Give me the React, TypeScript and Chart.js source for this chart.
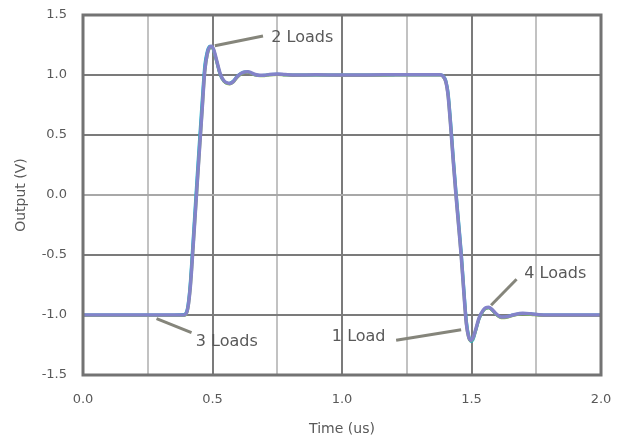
import { useEffect, useRef } from 'react';
import { Chart, registerables } from 'chart.js';

Chart.register(...registerables);

const timeUs = [0, 0.1, 0.2, 0.3, 0.39, 0.40, 0.405, 0.41, 0.415, 0.42, 0.43, 0.44, 0.45, 0.46, 0.47, 0.48, 0.49, 0.497, 0.505, 0.515, 0.53, 0.545, 0.56, 0.567, 0.58, 0.595, 0.61, 0.625, 0.637, 0.65, 0.665, 0.683, 0.70, 0.72, 0.75, 0.78, 0.82, 0.9, 1.0, 1.1, 1.2, 1.3, 1.38, 1.39, 1.40, 1.405, 1.41, 1.42, 1.43, 1.44, 1.45, 1.46, 1.47, 1.48, 1.49, 1.498, 1.506, 1.515, 1.53, 1.545, 1.555, 1.566, 1.58, 1.595, 1.614, 1.635, 1.66, 1.698, 1.73, 1.76, 1.8, 1.9, 2.0];

const load1 = [-1.0, -1.0, -1.0, -1.0, -0.995, -0.97, -0.92, -0.83, -0.7, -0.54, -0.2, 0.14, 0.47, 0.79, 1.08, 1.2, 1.24, 1.235, 1.2, 1.12, 1.0, 0.945, 0.93, 0.932, 0.95, 0.99, 1.015, 1.025, 1.025, 1.015, 1.002, 0.996, 0.998, 1.004, 1.007, 1.003, 0.999, 1.001, 1.0, 0.999, 1.001, 1.002, 1.002, 0.993, 0.96, 0.915, 0.85, 0.6, 0.31, 0.04, -0.21, -0.46, -0.76, -1.04, -1.18, -1.22, -1.205, -1.14, -1.03, -0.965, -0.945, -0.94, -0.96, -0.995, -1.02, -1.015, -1.0, -0.987, -0.992, -0.998, -1.0, -1.0, -1.0];

const load2 = [-1.0, -1.0, -1.0, -1.0, -1.0, -0.98, -0.94, -0.86, -0.75, -0.6, -0.27, 0.065, 0.39, 0.71, 1.03, 1.18, 1.235, 1.24, 1.21, 1.13, 1.01, 0.95, 0.932, 0.93, 0.945, 0.985, 1.012, 1.025, 1.027, 1.018, 1.004, 0.997, 0.998, 1.004, 1.008, 1.004, 1.0, 1.002, 1.0, 1.0, 1.002, 1.003, 1.003, 0.99, 0.95, 0.9, 0.82, 0.56, 0.27, 0.0, -0.25, -0.5, -0.8, -1.07, -1.19, -1.21, -1.19, -1.13, -1.02, -0.96, -0.94, -0.935, -0.955, -0.99, -1.017, -1.015, -1.0, -0.985, -0.99, -0.997, -1.0, -1.0, -1.0];

const load3 = [-1.005, -1.005, -1.005, -1.005, -1.005, -0.985, -0.945, -0.865, -0.755, -0.61, -0.28, 0.05, 0.38, 0.7, 1.02, 1.17, 1.228, 1.235, 1.205, 1.125, 1.005, 0.945, 0.927, 0.926, 0.94, 0.98, 1.007, 1.02, 1.022, 1.013, 0.999, 0.993, 0.994, 1.0, 1.004, 1.0, 0.997, 0.999, 0.997, 0.997, 0.999, 1.0, 1.0, 0.987, 0.946, 0.897, 0.815, 0.555, 0.265, -0.005, -0.255, -0.505, -0.805, -1.075, -1.195, -1.215, -1.195, -1.135, -1.025, -0.965, -0.945, -0.94, -0.96, -0.995, -1.022, -1.02, -1.005, -0.99, -0.995, -1.002, -1.005, -1.005, -1.005];

const load4 = [-1.0, -1.0, -1.0, -1.0, -1.0, -0.982, -0.942, -0.862, -0.752, -0.605, -0.275, 0.06, 0.385, 0.705, 1.025, 1.178, 1.232, 1.238, 1.208, 1.128, 1.008, 0.948, 0.93, 0.928, 0.943, 0.983, 1.01, 1.023, 1.025, 1.016, 1.002, 0.995, 0.996, 1.002, 1.006, 1.002, 0.998, 1.0, 0.998, 0.998, 1.0, 1.001, 1.001, 0.988, 0.948, 0.898, 0.818, 0.558, 0.268, -0.002, -0.252, -0.502, -0.802, -1.072, -1.192, -1.212, -1.192, -1.132, -1.022, -0.962, -0.942, -0.937, -0.957, -0.992, -1.019, -1.017, -1.002, -0.987, -0.992, -0.999, -1.002, -1.002, -1.002];

const seriesNames = ['1 Load', '2 Loads', '3 Loads', '4 Loads'];

const annotationTexts = ['2 Loads', '3 Loads', '4 Loads', '1 Load'];
const annotationLines = [
  [0.509, 1.244, 0.695, 1.325],
  [0.284, -1.031, 0.419, -1.1475],
  [1.5756, -0.919, 1.674, -0.7025],
  [1.209, -1.211, 1.46, -1.1225],
];
const annotationAnchors = [
  [0.727, 1.308, 'left'],
  [0.4356, -1.225, 'left'],
  [1.704, -0.661, 'left'],
  [1.168, -1.183, 'right'],
];

const FONT = 'DejaVu Sans';
const TEXT = '#595959';

const toPoints = (vals: number[]) => vals.map((v, i) => ({ x: timeUs[i], y: v }));

const framePlugin = {
  id: 'frameAndNotes',
  afterDatasetsDraw(chart: any) {
    const { ctx, chartArea, scales } = chart;
    const xs = scales.x;
    const ys = scales.y;
    ctx.save();
    ctx.strokeStyle = '#85857b';
    ctx.lineWidth = 3;
    annotationLines.forEach((l) => {
      ctx.beginPath();
      ctx.moveTo(xs.getPixelForValue(l[0]), ys.getPixelForValue(l[1]));
      ctx.lineTo(xs.getPixelForValue(l[2]), ys.getPixelForValue(l[3]));
      ctx.stroke();
    });
    ctx.fillStyle = TEXT;
    ctx.font = `16px "${FONT}"`;
    ctx.textBaseline = 'middle';
    annotationTexts.forEach((t, i) => {
      const a = annotationAnchors[i];
      ctx.textAlign = a[2] as CanvasTextAlign;
      ctx.fillText(t, xs.getPixelForValue(a[0] as number), ys.getPixelForValue(a[1] as number));
    });
    ctx.strokeStyle = '#737373';
    ctx.lineWidth = 3;
    ctx.strokeRect(chartArea.left, chartArea.top, chartArea.right - chartArea.left, chartArea.bottom - chartArea.top);
    ctx.restore();
  },
};

export default function App() {
  const ref = useRef<HTMLCanvasElement | null>(null);
  useEffect(() => {
    if (!ref.current) return;
    const isHalf = (v: number) => Math.abs(v * 2 - Math.round(v * 2)) < 1e-6;
    const chart = new Chart(ref.current, {
      type: 'line',
      data: {
        datasets: [
          { label: seriesNames[1], data: toPoints(load2), borderColor: '#8383c9', borderWidth: 3.5, order: 1 },
          { label: seriesNames[3], data: toPoints(load4), borderColor: '#c8553a', borderWidth: 2, order: 2 },
          { label: seriesNames[2], data: toPoints(load3), borderColor: '#8cc43c', borderWidth: 3, order: 3 },
          { label: seriesNames[0], data: toPoints(load1), borderColor: '#19b3c9', borderWidth: 3, order: 4 },
        ],
      },
      options: {
        responsive: false,
        animation: false,
        layout: { padding: { left: 0, top: 15, right: 25, bottom: 0 } },
        elements: {
          point: { radius: 0 },
          line: { cubicInterpolationMode: 'monotone', fill: false },
        },
        plugins: { legend: { display: false }, tooltip: { enabled: false } },
        scales: {
          x: {
            type: 'linear',
            min: 0,
            max: 2,
            ticks: {
              stepSize: 0.25,
              autoSkip: false,
              maxRotation: 0,
              padding: 17,
              color: TEXT,
              font: { family: FONT, size: 13 },
              callback: (v: any) => (isHalf(Number(v)) ? Number(v).toFixed(1) : ''),
            },
            grid: {
              drawTicks: false,
              lineWidth: 2,
              color: (c: any) => (c.tick && isHalf(c.tick.value) ? '#7b7b7b' : '#c2c2c2'),
            },
            border: { display: false },
            title: {
              display: true,
              text: 'Time (us)',
              color: TEXT,
              font: { family: FONT, size: 14 },
              padding: { top: 0, bottom: 7.6 },
            },
            afterFit: (s: any) => {
              s.height = 70;
              s.paddingLeft = 0;
              s.paddingRight = 0;
            },
          },
          y: {
            type: 'linear',
            min: -1.5,
            max: 1.5,
            ticks: {
              stepSize: 0.5,
              padding: 16,
              color: TEXT,
              font: { family: FONT, size: 13 },
              callback: (v: any) => Number(v).toFixed(1),
            },
            grid: {
              drawTicks: false,
              lineWidth: 2,
              color: (c: any) => (c.tick && Math.abs(c.tick.value) < 1e-6 ? '#a8a8a8' : '#7b7b7b'),
            },
            border: { display: false },
            title: {
              display: true,
              text: 'Output (V)',
              color: TEXT,
              font: { family: FONT, size: 14 },
              padding: { top: 13, bottom: 0 },
            },
            afterFit: (s: any) => {
              s.width = 83;
              s.paddingTop = 0;
              s.paddingBottom = 0;
            },
          },
        },
      } as any,
      plugins: [framePlugin],
    });
    return () => chart.destroy();
  }, []);
  return (
    <div style={{ position: 'fixed', left: 0, top: 0, width: 626, height: 445, background: '#fff' }}>
      <canvas ref={ref} width={626} height={445} style={{ display: 'block' }} />
    </div>
  );
}
